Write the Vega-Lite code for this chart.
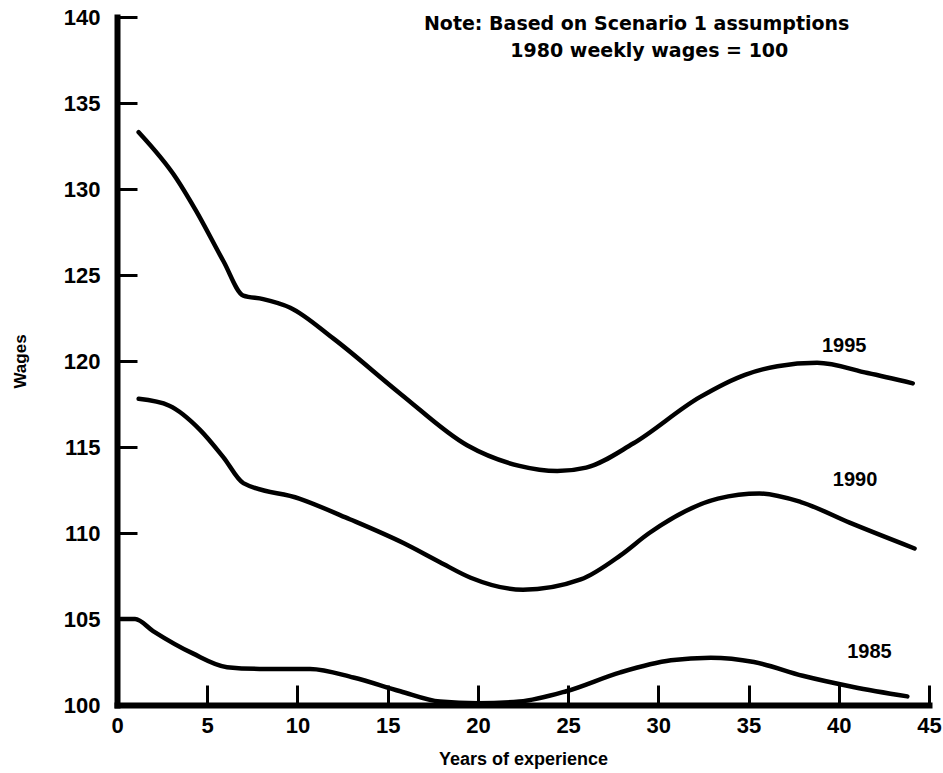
{
  "$schema": "https://vega.github.io/schema/vega-lite/v6.json",
  "width": 812,
  "height": 688,
  "autosize": "none",
  "padding": {"left": 117, "top": 17, "right": 14, "bottom": 68},
  "background": "white",
  "config": {
    "view": {"stroke": null},
    "font": "Liberation Sans",
    "axis": {
      "grid": false,
      "domainColor": "black",
      "domainWidth": 6,
      "domainCap": "square",
      "tickColor": "black",
      "tickWidth": 3,
      "tickSize": -20,
      "labelFont": "Liberation Sans",
      "labelFontWeight": "bold",
      "labelFontSize": 22,
      "labelColor": "black",
      "titleFont": "Liberation Sans",
      "titleFontWeight": "bold",
      "titleColor": "black"
    }
  },
  "datasets": {
    "curves": [
      {"series": "1995", "x": 1.2, "y": 133.3},
      {"series": "1995", "x": 3.3, "y": 130.6},
      {"series": "1995", "x": 4.4, "y": 128.7},
      {"series": "1995", "x": 5.9, "y": 125.8},
      {"series": "1995", "x": 7.0, "y": 123.8},
      {"series": "1995", "x": 8.1, "y": 123.6},
      {"series": "1995", "x": 9.6, "y": 123.1},
      {"series": "1995", "x": 12.0, "y": 121.3},
      {"series": "1995", "x": 15.7, "y": 118.1},
      {"series": "1995", "x": 19.4, "y": 115.1},
      {"series": "1995", "x": 22.3, "y": 113.9},
      {"series": "1995", "x": 24.4, "y": 113.6},
      {"series": "1995", "x": 26.0, "y": 113.8},
      {"series": "1995", "x": 28.6, "y": 115.2},
      {"series": "1995", "x": 32.3, "y": 117.9},
      {"series": "1995", "x": 34.8, "y": 119.2},
      {"series": "1995", "x": 36.6, "y": 119.7},
      {"series": "1995", "x": 38.8, "y": 119.9},
      {"series": "1995", "x": 41.6, "y": 119.3},
      {"series": "1995", "x": 44.1, "y": 118.7},
      {"series": "1990", "x": 1.2, "y": 117.8},
      {"series": "1990", "x": 2.9, "y": 117.4},
      {"series": "1990", "x": 4.6, "y": 116.0},
      {"series": "1990", "x": 5.9, "y": 114.4},
      {"series": "1990", "x": 7.0, "y": 112.9},
      {"series": "1990", "x": 10.1, "y": 112.0},
      {"series": "1990", "x": 12.9, "y": 110.8},
      {"series": "1990", "x": 15.9, "y": 109.4},
      {"series": "1990", "x": 17.9, "y": 108.3},
      {"series": "1990", "x": 19.6, "y": 107.4},
      {"series": "1990", "x": 22.5, "y": 106.7},
      {"series": "1990", "x": 25.7, "y": 107.3},
      {"series": "1990", "x": 27.9, "y": 108.7},
      {"series": "1990", "x": 29.5, "y": 110.0},
      {"series": "1990", "x": 33.3, "y": 112.0},
      {"series": "1990", "x": 35.6, "y": 112.3},
      {"series": "1990", "x": 37.9, "y": 111.8},
      {"series": "1990", "x": 40.6, "y": 110.6},
      {"series": "1990", "x": 44.2, "y": 109.1},
      {"series": "1985", "x": 0.2, "y": 105.0},
      {"series": "1985", "x": 1.0, "y": 105.0},
      {"series": "1985", "x": 2.0, "y": 104.3},
      {"series": "1985", "x": 4.2, "y": 103.0},
      {"series": "1985", "x": 6.1, "y": 102.2},
      {"series": "1985", "x": 7.9, "y": 102.1},
      {"series": "1985", "x": 10.7, "y": 102.1},
      {"series": "1985", "x": 13.1, "y": 101.6},
      {"series": "1985", "x": 15.7, "y": 100.8},
      {"series": "1985", "x": 17.9, "y": 100.2},
      {"series": "1985", "x": 20.0, "y": 100.1},
      {"series": "1985", "x": 22.3, "y": 100.2},
      {"series": "1985", "x": 24.9, "y": 100.8},
      {"series": "1985", "x": 27.9, "y": 101.9},
      {"series": "1985", "x": 30.7, "y": 102.6},
      {"series": "1985", "x": 32.9, "y": 102.75},
      {"series": "1985", "x": 35.3, "y": 102.5},
      {"series": "1985", "x": 38.0, "y": 101.7},
      {"series": "1985", "x": 40.8, "y": 101.05},
      {"series": "1985", "x": 43.8, "y": 100.5}
    ],
    "labels": [
      {"text": "1995", "x": 40.3, "y": 120.9},
      {"text": "1990", "x": 40.9, "y": 113.1},
      {"text": "1985", "x": 41.7, "y": 103.1}
    ],
    "notes": [
      {"text": "Note: Based on Scenario 1 assumptions", "x": 28.8, "y": 139.6},
      {"text": "1980 weekly wages = 100", "x": 29.5, "y": 138.0}
    ]
  },
  "layer": [
    {
      "data": {"name": "curves"},
      "mark": {"type": "line", "interpolate": "monotone", "color": "black", "strokeWidth": 4.5, "strokeCap": "round"},
      "encoding": {
        "x": {
          "field": "x", "type": "quantitative",
          "scale": {"domain": [0, 45], "nice": false},
          "axis": {"values": [0,5,10,15,20,25,30,35,40,45], "title": "Years of experience", "titleFontSize": 18, "titlePadding": 14, "labelPadding": 30, "labelFlush": false}
        },
        "y": {
          "field": "y", "type": "quantitative",
          "scale": {"domain": [100, 140], "nice": false, "zero": false},
          "axis": {"values": [100,105,110,115,120,125,130,135,140], "title": "Wages", "titleFontSize": 17, "titlePadding": 34, "labelPadding": 37, "labelFlush": false}
        },
        "detail": {"field": "series", "type": "nominal"}
      }
    },
    {
      "data": {"name": "labels"},
      "mark": {"type": "text", "font": "Liberation Sans", "fontWeight": "bold", "fontSize": 20, "color": "black"},
      "encoding": {
        "x": {"field": "x", "type": "quantitative"},
        "y": {"field": "y", "type": "quantitative"},
        "text": {"field": "text"}
      }
    },
    {
      "data": {"name": "notes"},
      "mark": {"type": "text", "font": "DejaVu Sans", "fontWeight": "bold", "fontSize": 19, "color": "black"},
      "encoding": {
        "x": {"field": "x", "type": "quantitative"},
        "y": {"field": "y", "type": "quantitative"},
        "text": {"field": "text"}
      }
    }
  ]
}
